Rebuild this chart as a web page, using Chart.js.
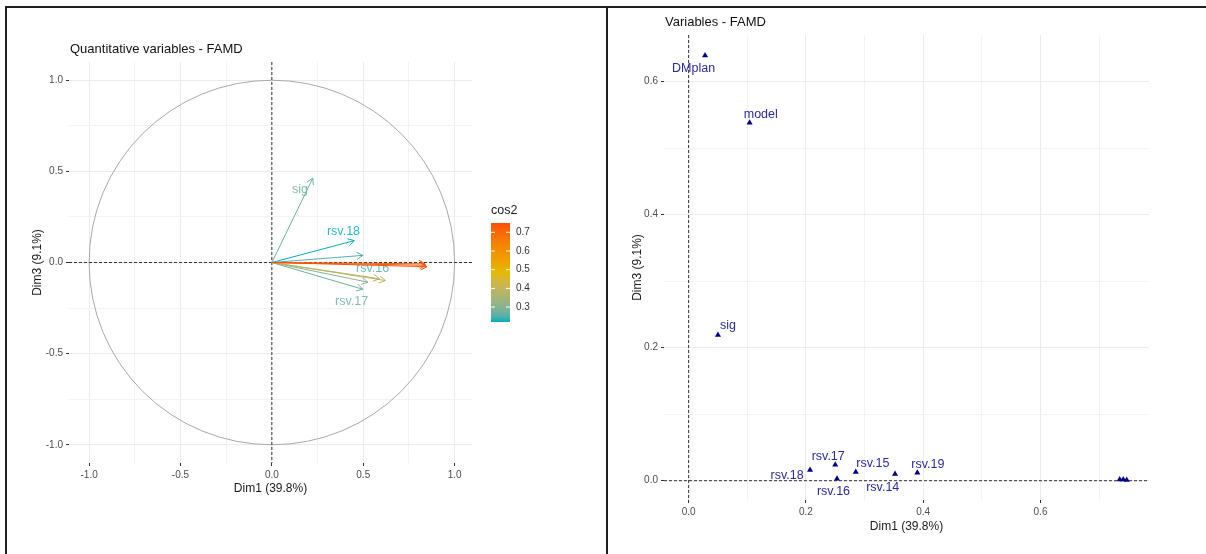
<!DOCTYPE html>
<html>
<head>
<meta charset="utf-8">
<script src="https://cdn.jsdelivr.net/npm/chart.js@4.4.1/dist/chart.umd.min.js"></script>
<style>
    html, body { margin: 0; padding: 0; background: #fff; width: 1206px; height: 554px; overflow: hidden; }
    .frame { position: absolute; background: #1e1e1e; }
    .box { position: absolute; }
</style>
</head>
<body>
<div class="frame" style="left:5px;top:6px;width:1201px;height:2px"></div>
<div class="frame" style="left:5px;top:6px;width:2px;height:548px"></div>
<div class="frame" style="left:606px;top:6px;width:2px;height:548px"></div>
<div class="box" style="left:8px;top:9px;width:598px;height:545px"><canvas id="circleChart"></canvas></div>
<div class="box" style="left:610px;top:9px;width:596px;height:545px"><canvas id="varChart"></canvas></div>

<script>
// ===== DATA: quantitative variables (correlation circle) =====
var arrowNames = ['sig', 'rsv.14', 'rsv.15', 'rsv.16', 'rsv.17', 'rsv.18', 'rsv.19', '', '', ''];
var arrowDim1 = [0.224, 0.589, 0.525, 0.498, 0.498, 0.451, 0.621, 0.838, 0.843, 0.848];
var arrowDim3 = [0.463, -0.089, -0.108, 0.039, -0.147, 0.120, -0.099, -0.007, -0.015, -0.023];
var arrowCos2 = [0.27, 0.36, 0.30, 0.25, 0.27, 0.22, 0.40, 0.71, 0.73, 0.75];
// label anchors (only the labels that are visible in the picture)
var arrowLabelDim1 = [0.154, null, null, 0.551, 0.436, 0.392, null, null, null, null];
var arrowLabelDim3 = [0.400, null, null, -0.031, -0.215, 0.172, null, null, null, null];

var circleGrid = [-1, -0.75, -0.5, -0.25, 0, 0.25, 0.5, 0.75, 1];
var circleTicks = [-1, -0.5, 0, 0.5, 1];
var cos2Ticks = [0.3, 0.4, 0.5, 0.6, 0.7];
var gradientCols = ['#00AFBB', '#E7B800', '#FC4E07'];

// ===== DATA: all variables (Dim1 / Dim3) =====
var varNames = ['DMplan', 'model', 'sig', 'rsv.17', 'rsv.18', 'rsv.16', 'rsv.15', 'rsv.14', 'rsv.19', '', '', ''];
var varDim1 = [0.028, 0.104, 0.050, 0.250, 0.207, 0.253, 0.285, 0.352, 0.390, 0.735, 0.741, 0.747];
var varDim3 = [0.639, 0.538, 0.219, 0.024, 0.016, 0.003, 0.013, 0.010, 0.012, 0.002, 0.002, 0.001];
var varLabelDim1 = [0.0085, 0.123, 0.067, 0.238, 0.168, 0.247, 0.314, 0.331, 0.408, null, null, null];
var varLabelDim3 = [0.6195, 0.550, 0.233, 0.036, 0.0075, -0.016, 0.0256, -0.0105, 0.025, null, null, null];

var varGridX = [0, 0.1, 0.2, 0.3, 0.4, 0.5, 0.6, 0.7];
var varGridY = [0, 0.1, 0.2, 0.3, 0.4, 0.5, 0.6];
var varTicks = [0, 0.2, 0.4, 0.6];

Chart.defaults.font.family = '"Liberation Sans", Arial, sans-serif';

// ===== COLOURS (gradient interpolated in Lab, like ggplot) =====
function hexToRgb(h) {
    return [parseInt(h.substr(1, 2), 16), parseInt(h.substr(3, 2), 16), parseInt(h.substr(5, 2), 16)];
}
function toLin(c) { c /= 255; return c <= 0.04045 ? c / 12.92 : Math.pow((c + 0.055) / 1.055, 2.4); }
function fromLin(c) { c = c <= 0.0031308 ? 12.92 * c : 1.055 * Math.pow(c, 1 / 2.4) - 0.055; return Math.round(Math.max(0, Math.min(1, c)) * 255); }
function rgbToLab(rgb) {
    var r = toLin(rgb[0]), g = toLin(rgb[1]), b = toLin(rgb[2]);
    var x = (0.4124 * r + 0.3576 * g + 0.1805 * b) / 0.95047;
    var y = (0.2126 * r + 0.7152 * g + 0.0722 * b);
    var z = (0.0193 * r + 0.1192 * g + 0.9505 * b) / 1.08883;
    var f = function(t) { return t > 0.008856 ? Math.cbrt(t) : 7.787 * t + 16 / 116; };
    return [116 * f(y) - 16, 500 * (f(x) - f(y)), 200 * (f(y) - f(z))];
}
function labToRgb(lab) {
    var fy = (lab[0] + 16) / 116, fx = fy + lab[1] / 500, fz = fy - lab[2] / 200;
    var inv = function(t) { return t * t * t > 0.008856 ? t * t * t : (t - 16 / 116) / 7.787; };
    var x = inv(fx) * 0.95047, y = inv(fy), z = inv(fz) * 1.08883;
    var r = 3.2406 * x - 1.5372 * y - 0.4986 * z;
    var g = -0.9689 * x + 1.8758 * y + 0.0415 * z;
    var b = 0.0557 * x - 0.2040 * y + 1.0570 * z;
    return [fromLin(r), fromLin(g), fromLin(b)];
}
var gradientLab = gradientCols.map(function(h) { return rgbToLab(hexToRgb(h)); });
var cos2Min = Math.min.apply(null, arrowCos2);
var cos2Max = Math.max.apply(null, arrowCos2);

function gradientAt(t) {
    t = Math.max(0, Math.min(1, t));
    var a, b, s;
    if (t < 0.5) { a = gradientLab[0]; b = gradientLab[1]; s = t * 2; }
    else { a = gradientLab[1]; b = gradientLab[2]; s = (t - 0.5) * 2; }
    var c = labToRgb(a.map(function(x, i) { return x + (b[i] - x) * s; }));
    return 'rgb(' + c.join(',') + ')';
}
function cos2Colour(v) { return gradientAt((v - cos2Min) / (cos2Max - cos2Min)); }

function isIn(list, v) {
    return list.some(function(t) { return Math.abs(t - v) < 1e-9; });
}

function gridScale(min, max, grid, majors, fitSize, titleText, titlePad) {
    return {
        type: 'linear', min: min, max: max,
        afterBuildTicks: function(s) { s.ticks = grid.map(function(v) { return { value: v }; }); },
        afterFit: function(s) { if (s.isHorizontal()) s.height = fitSize; else s.width = fitSize; },
        border: { display: false },
        grid: {
            color: function(c) { return c.tick && isIn(majors, c.tick.value) ? '#ebebeb' : '#f3f3f3'; },
            tickColor: function(c) { return c.tick && isIn(majors, c.tick.value) ? '#333333' : 'rgba(0,0,0,0)'; },
            tickLength: 3,
            lineWidth: 1
        },
        ticks: {
            padding: 3,
            color: '#4d4d4d',
            font: { size: 10 },
            maxRotation: 0,
            autoSkip: false,
            callback: function(v) { return isIn(majors, v) ? v.toFixed(1) : ''; }
        },
        title: { display: true, text: titleText, color: '#1a1a1a', font: { size: 12 }, padding: titlePad }
    };
}

function drawZeroLines(chart) {
    var ctx = chart.ctx, a = chart.chartArea;
    var x0 = chart.scales.x.getPixelForValue(0), y0 = chart.scales.y.getPixelForValue(0);
    ctx.save();
    ctx.strokeStyle = '#333333';
    ctx.lineWidth = 1;
    ctx.setLineDash([3, 2]);
    ctx.beginPath();
    ctx.moveTo(a.left, y0); ctx.lineTo(a.right, y0);
    ctx.moveTo(x0, a.top); ctx.lineTo(x0, a.bottom);
    ctx.stroke();
    ctx.restore();
}

function drawTitle(chart, text) {
    var ctx = chart.ctx;
    ctx.save();
    ctx.fillStyle = '#111';
    ctx.font = '13px "Liberation Sans", Arial, sans-serif';
    ctx.textBaseline = 'middle';
    ctx.fillText(text, chart.chartArea.left + 1, chart.chartArea.top - 13);
    ctx.restore();
}

// ===== LEFT: CORRELATION CIRCLE =====
var circlePlugin = {
    id: 'circleDeco',
    beforeDatasetsDraw: function(chart) {
        var ctx = chart.ctx, sx = chart.scales.x, sy = chart.scales.y;
        var cx = sx.getPixelForValue(0), cy = sy.getPixelForValue(0);
        ctx.save();
        ctx.strokeStyle = '#a9a9a9';
        ctx.lineWidth = 1;
        ctx.beginPath();
        ctx.ellipse(cx, cy, sx.getPixelForValue(1) - cx, cy - sy.getPixelForValue(1), 0, 0, Math.PI * 2);
        ctx.stroke();
        ctx.restore();
        drawZeroLines(chart);

        // labels sit under the arrows
        ctx.save();
        ctx.font = '12.5px "Liberation Sans", Arial, sans-serif';
        ctx.textAlign = 'center';
        ctx.textBaseline = 'middle';
        arrowNames.forEach(function(n, i) {
            if (arrowLabelDim1[i] === null) return;
            ctx.fillStyle = cos2Colour(arrowCos2[i]);
            ctx.globalAlpha = 0.85;
            ctx.fillText(n, sx.getPixelForValue(arrowLabelDim1[i]), sy.getPixelForValue(arrowLabelDim3[i]));
        });
        ctx.restore();
    },
    afterDatasetsDraw: function(chart) {
        var ctx = chart.ctx;
        var order = arrowCos2.map(function(v, i) { return i; }).sort(function(a, b) { return arrowCos2[a] - arrowCos2[b]; });
        ctx.save();
        order.forEach(function(i) {
            var pts = chart.getDatasetMeta(i).data;
            var p0 = pts[0], p1 = pts[1];
            var ang = Math.atan2(p1.y - p0.y, p1.x - p0.x);
            var len = 7, spread = Math.PI / 6;
            ctx.strokeStyle = cos2Colour(arrowCos2[i]);
            ctx.lineWidth = 1;
            ctx.beginPath();
            ctx.moveTo(p1.x - len * Math.cos(ang - spread), p1.y - len * Math.sin(ang - spread));
            ctx.lineTo(p1.x, p1.y);
            ctx.lineTo(p1.x - len * Math.cos(ang + spread), p1.y - len * Math.sin(ang + spread));
            ctx.stroke();
        });
        ctx.restore();

        // cos2 colour bar
        var a = chart.chartArea;
        var barL = a.right + 19, barW = 19, barT = a.top + 161, barH = 99, barB = barT + barH;
        ctx.save();
        ctx.fillStyle = '#1a1a1a';
        ctx.font = '12.5px "Liberation Sans", Arial, sans-serif';
        ctx.textBaseline = 'middle';
        ctx.fillText('cos2', barL, barT - 12);
        var g = ctx.createLinearGradient(0, barB, 0, barT);
        for (var k = 0; k <= 20; k++) g.addColorStop(k / 20, gradientAt(k / 20));
        ctx.fillStyle = g;
        ctx.fillRect(barL, barT, barW, barH);
        ctx.font = '10px "Liberation Sans", Arial, sans-serif';
        cos2Ticks.forEach(function(v) {
            var y = barB - (v - cos2Min) / (cos2Max - cos2Min) * barH;
            ctx.strokeStyle = '#ffffff';
            ctx.lineWidth = 1;
            ctx.beginPath();
            ctx.moveTo(barL, y); ctx.lineTo(barL + 4, y);
            ctx.moveTo(barL + barW - 4, y); ctx.lineTo(barL + barW, y);
            ctx.stroke();
            ctx.fillStyle = '#333333';
            ctx.fillText(v.toFixed(1), barL + barW + 6, y);
        });
        ctx.restore();

        drawTitle(chart, 'Quantitative variables - FAMD');
    }
};

new Chart(document.getElementById('circleChart'), {
    type: 'line',
    data: {
        datasets: arrowDim1.map(function(x, i) {
            return {
                data: [{ x: 0, y: 0 }, { x: x, y: arrowDim3[i] }],
                borderColor: cos2Colour(arrowCos2[i]),
                borderWidth: 1,
                pointRadius: 0,
                fill: false,
                tension: 0,
                order: -arrowCos2[i]
            };
        })
    },
    options: {
        responsive: true,
        maintainAspectRatio: false,
        animation: false,
        layout: { padding: { left: 0, top: 53, right: 134, bottom: 0 } },
        plugins: { legend: { display: false }, tooltip: { enabled: false } },
        scales: {
            x: gridScale(-1.11, 1.095, circleGrid, circleTicks, 91, 'Dim1 (39.8%)', { top: 0, bottom: 58 }),
            y: gridScale(-1.1, 1.1, circleGrid, circleTicks, 61, 'Dim3 (9.1%)', { top: 22, bottom: 0 })
        }
    },
    plugins: [circlePlugin]
});

// ===== RIGHT: VARIABLES MAP =====
var varPlugin = {
    id: 'varDeco',
    beforeDatasetsDraw: function(chart) { drawZeroLines(chart); },
    afterDatasetsDraw: function(chart) {
        var ctx = chart.ctx, sx = chart.scales.x, sy = chart.scales.y;
        ctx.save();
        ctx.fillStyle = '#2a2aa0';
        ctx.font = '12.5px "Liberation Sans", Arial, sans-serif';
        ctx.textAlign = 'center';
        ctx.textBaseline = 'middle';
        varNames.forEach(function(n, i) {
            if (varLabelDim1[i] === null) return;
            ctx.fillText(n, sx.getPixelForValue(varLabelDim1[i]), sy.getPixelForValue(varLabelDim3[i]));
        });
        ctx.restore();
        drawTitle(chart, 'Variables - FAMD');
    }
};

new Chart(document.getElementById('varChart'), {
    type: 'scatter',
    data: {
        datasets: [{
            data: varDim1.map(function(x, i) { return { x: x, y: varDim3[i] }; }),
            pointStyle: 'triangle',
            pointRadius: 3.5,
            backgroundColor: '#00008B',
            borderColor: '#00008B',
            borderWidth: 0
        }]
    },
    options: {
        responsive: true,
        maintainAspectRatio: false,
        animation: false,
        layout: { padding: { left: 0, top: 26, right: 57, bottom: 0 } },
        plugins: { legend: { display: false }, tooltip: { enabled: false } },
        scales: {
            x: gridScale(-0.042, 0.785, varGridX, varTicks, 54, 'Dim1 (39.8%)', { top: 0, bottom: 20 }),
            y: gridScale(-0.029, 0.670, varGridY, varTicks, 54, 'Dim3 (9.1%)', { top: 20, bottom: 0 })
        }
    },
    plugins: [varPlugin]
});
</script>
</body>
</html>
